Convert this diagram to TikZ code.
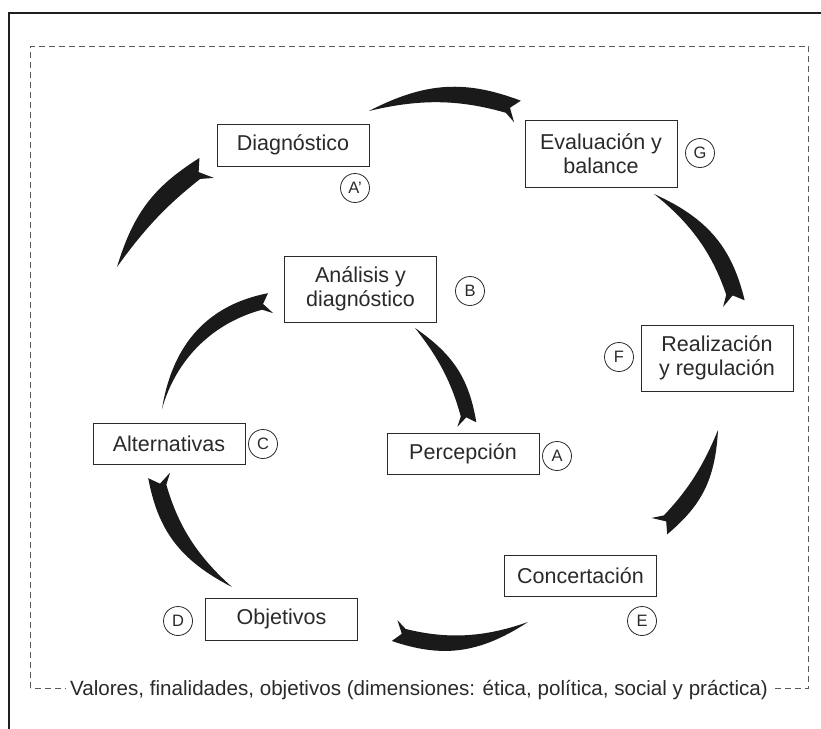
\documentclass[tikz,border=0pt]{standalone}
\usepackage{fontspec}
\setmainfont{Liberation Sans}
\usetikzlibrary{calc}
\definecolor{ink}{HTML}{2A2A2A}
\definecolor{framecol}{HTML}{1F1F1F}
\definecolor{dashcol}{HTML}{5A5A5A}
\definecolor{arrowink}{HTML}{1A1A1A}
% crescent arrow: #1 tail, #2 head (middle of the forked end), #3 bend, #4 half width of the end
\newcommand\crarrow[4]{%
  \coordinate (cA) at ($(#1)!0.39!#3:(#2)$);
  \coordinate (cB) at ($(#2)!0.39!-#3:(#1)$);
  \coordinate (Ho) at ($(#2)!#4pt!-90:(cB)$);
  \coordinate (Hb) at ($(#2)!#4pt!(cB)$);
  \fill[arrowfill] (#1)
    .. controls ($(cA)+1.0*(Ho)-1.0*(#2)$) and ($(cB)+1.05*(Ho)-1.05*(#2)$) .. (Ho)
    -- ($(#2)+0.7*(Hb)-0.7*(#2)+0.05*(Ho)-0.05*(#2)$)
    -- ($(#2)-1.05*(Ho)+1.05*(#2)-0.1*(Hb)+0.1*(#2)$)
    -- ($(#2)+0.9*(Hb)-0.9*(#2)-0.5*(Ho)+0.5*(#2)$)
    .. controls ($(cB)-0.8*(Ho)+0.8*(#2)$) and ($(cA)-0.7*(Ho)+0.7*(#2)$) .. (#1) -- cycle;
}
\begin{document}
\begin{tikzpicture}[x=1pt,y=-1pt,
  box/.style={draw=ink, line width=0.9pt, minimum width=152pt, inner sep=0pt,
    font=\fontsize{21.5}{24}\selectfont, text=ink, align=center},
  tag/.style={circle, draw=ink, line width=0.8pt, minimum size=29pt, inner sep=0pt,
    font=\fontsize{16.5}{16.5}\selectfont, text=ink},
  arrowfill/.style={fill=arrowink},
  dashframe/.style={draw=dashcol, line width=0.9pt, dash pattern=on 6pt off 4pt}]
\useasboundingbox (0,0) rectangle (821,728);
\fill[white] (0,0) rectangle (821,728);
% outer frame
\draw[framecol, line width=2.8pt, line join=miter] (9,732) -- (9,13) -- (825,13);
% dashed frame
\draw[dashframe] (30.5,688) -- (30.5,46) -- (808.5,46) -- (808.5,688) -- cycle;
\node[fill=white, inner xsep=4pt, inner ysep=3pt, anchor=base, text=ink,
  font=\fontsize{20.6}{22}\selectfont] (vals) at (419,695)
  {Valores, finalidades, objetivos (dimensiones: ética, política, social y práctica)};

% boxes
\node[box, minimum height=42pt] (diag) at (293,145) {Diagnóstico};
\node[box, minimum height=67pt] (eval) at (601,153.5) {Evaluación y\\balance};
\node[box, minimum height=66pt] (anal) at (360.5,289) {Análisis y\\diagnóstico};
\node[box, minimum height=66pt] (real) at (717,358) {Realización\\y regulación};
\node[box, minimum height=41pt] (perc) at (463,453.5) {Percepción};
\node[box, minimum height=41pt] (alt) at (169,443.5) {Alternativas};
\node[box, minimum height=41pt] (conc) at (580.5,575.5) {Concertación};
\node[box, minimum height=42pt] (obj) at (281.5,619) {Objetivos};

% letter tags
\node[tag] (tagAp) at (355,188) {A’};
\node[tag] (tagG) at (700,153) {G};
\node[tag] (tagB) at (470,291) {B};
\node[tag] (tagF) at (619,357) {F};
\node[tag] (tagA) at (557,456) {A};
\node[tag] (tagC) at (263,444) {C};
\node[tag] (tagD) at (178,621) {D};
\node[tag] (tagE) at (642,621) {E};

% arrow ends
\coordinate (t1) at (369,111);  \coordinate (h1) at (517,111);
\coordinate (t2) at (654,194);  \coordinate (h2) at (734,303);
\coordinate (t3) at (718,430);  \coordinate (h3) at (660,526);
\coordinate (t4) at (528,622);  \coordinate (h4) at (395,631);
\coordinate (t5) at (232,587);  \coordinate (h5) at (159,476);
\coordinate (t6) at (162,409);  \coordinate (h6) at (270,303);
\coordinate (t7) at (415,328);  \coordinate (h7) at (467,424);
\coordinate (t8) at (117,267);  \coordinate (h8) at (206,168);

\crarrow{t1}{h1}{20}{11}
\crarrow{t2}{h2}{22}{11}
\crarrow{t3}{h3}{18}{11}
\crarrow{t4}{h4}{22}{10.5}
\crarrow{t5}{h5}{22}{11}
\crarrow{t6}{h6}{33}{10}
\crarrow{t7}{h7}{18}{9.5}
\crarrow{t8}{h8}{15}{12}
\end{tikzpicture}
\end{document}
